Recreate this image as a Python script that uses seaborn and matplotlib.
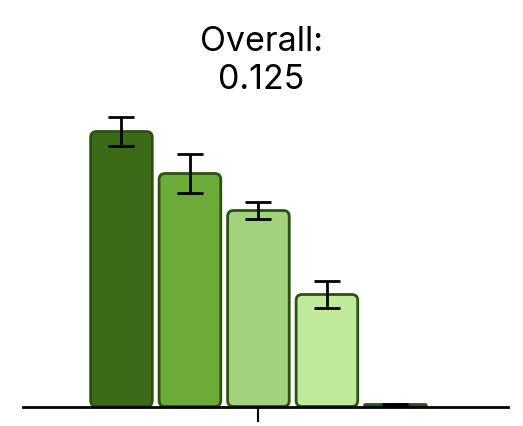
import matplotlib
matplotlib.use("Agg")
import matplotlib.pyplot as plt
import seaborn as sns
import pandas as pd
from matplotlib.patches import FancyBboxPatch

# === Data ===
group = ["Overall"] * 5
levels = ["L1", "L2", "L3", "L4", "L5"]
values = [0.275, 0.233, 0.196, 0.112, 0.002]
errors = [0.0145, 0.0195, 0.008, 0.0135, 0.001]
overall = 0.125

colors = ["#3b6a18", "#6cab37", "#a2d27b", "#bfe99b", "#d6f2bf"]
edge = "#2c5211"

df = pd.DataFrame({"group": group, "level": levels, "value": values})

# === Plot ===
sns.set_theme(style="white")
plt.rcParams["font.family"] = ["Inter", "DejaVu Sans"]
fig = plt.figure(figsize=(5.23, 4.27), dpi=100)
ax = fig.add_axes([23 / 523, 1 - 407.5 / 427, 485 / 523, 297.5 / 427])

sns.barplot(data=df, x="group", y="value", hue="level", hue_order=levels,
            palette=colors, gap=0.1, errorbar=None, legend=False, ax=ax)

ax.set_xlim(-0.55, 0.583)
ax.set_ylim(0, 0.2975)

# rounded bars
x_px = 1.133 / 485
y_px = 0.001
aspect = y_px / x_px
rad = 6 * x_px
centers = []
for patch, c in zip(list(ax.patches), colors):
    x, y = patch.get_x(), patch.get_y()
    w, h = patch.get_width(), patch.get_height()
    centers.append(x + w / 2)
    patch.remove()
    r = min(rad, w / 2, h / aspect / 2)
    fb = FancyBboxPatch((x, y), w, h,
                        boxstyle=f"round,pad=0,rounding_size={r}",
                        mutation_aspect=aspect,
                        facecolor=c, edgecolor=edge, linewidth=2, zorder=2)
    ax.add_patch(fb)

ax.errorbar(centers, values, yerr=errors, fmt="none", ecolor="black",
            elinewidth=2, capsize=9.5, capthick=2, zorder=3)

# === Styling ===
sns.despine(ax=ax, left=True)
ax.spines["bottom"].set_linewidth(2)
ax.spines["bottom"].set_color("black")
ax.set_yticks([])
ax.set_xticks([0])
ax.set_xticklabels([""])
ax.tick_params(axis="x", length=11, width=1.5, color="black", bottom=True)
ax.set_xlabel("")
ax.set_ylabel("")

fig.text(0.5, 1 - 42 / 427, "Overall:", ha="center", va="center",
         fontsize=24.5, color="black")
fig.text(0.5, 1 - 80 / 427, f"{overall:.3f}", ha="center", va="center",
         fontsize=24.5, color="black")

fig.savefig("out.png", dpi=100)
